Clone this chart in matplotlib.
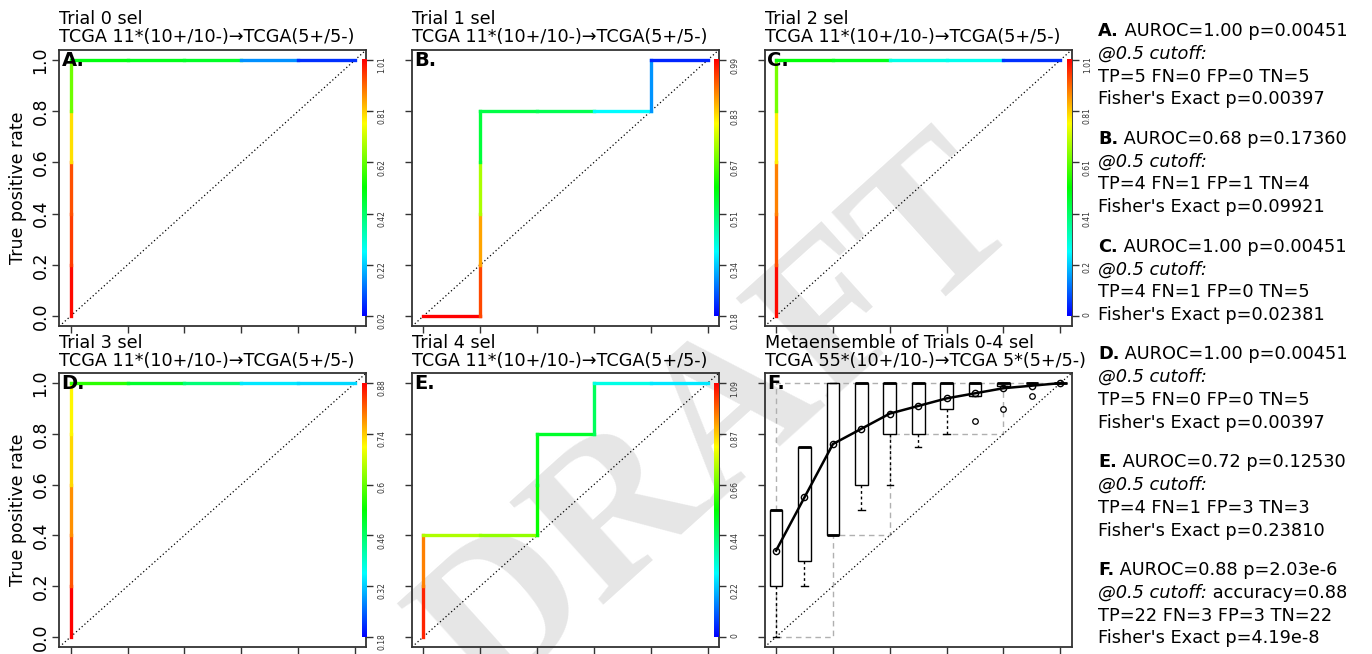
import numpy as np
import matplotlib
matplotlib.use("Agg")
import matplotlib.pyplot as plt
from matplotlib.collections import LineCollection
from matplotlib.colors import ListedColormap, Normalize, hsv_to_rgb

W, H = 1372, 654

# ROC curves of trials 0-4: curve points and the cutoff of each segment
a_fpr = [0, 0, 0, 0, 0, 0, 0.2, 0.4, 0.6, 0.8, 1.0]
a_tpr = [0, 0.2, 0.4, 0.6, 0.8, 1.0, 1.0, 1.0, 1.0, 1.0, 1.0]
a_cut = [1.00, 0.95, 0.93, 0.79, 0.62, 0.50, 0.49, 0.48, 0.16, 0.07]
a_range = (0.02, 1.01)
a_ticks = ["0.02", "0.22", "0.42", "0.62", "0.81", "1.01"]

b_fpr = [0, 0.2, 0.2, 0.2, 0.2, 0.2, 0.4, 0.6, 0.8, 0.8, 1.0]
b_tpr = [0, 0, 0.2, 0.4, 0.6, 0.8, 0.8, 0.8, 0.8, 1.0, 1.0]
b_cut = [0.99, 0.93, 0.86, 0.72, 0.54, 0.53, 0.52, 0.38, 0.30, 0.21]
b_range = (0.18, 0.99)
b_ticks = ["0.18", "0.34", "0.51", "0.67", "0.83", "0.99"]

c_fpr = [0, 0, 0, 0, 0, 0, 0.2, 0.4, 0.6, 0.8, 1.0]
c_tpr = [0, 0.2, 0.4, 0.6, 0.8, 1.0, 1.0, 1.0, 1.0, 1.0, 1.0]
c_cut = [1.00, 0.93, 0.88, 0.77, 0.62, 0.50, 0.48, 0.28, 0.27, 0.05]
c_range = (0.0, 1.01)
c_ticks = ["0", "0.2", "0.41", "0.61", "0.81", "1.01"]

d_fpr = [0, 0, 0, 0, 0, 0, 0.2, 0.4, 0.6, 0.8, 1.0]
d_tpr = [0, 0.2, 0.4, 0.6, 0.8, 1.0, 1.0, 1.0, 1.0, 1.0, 1.0]
d_cut = [0.88, 0.82, 0.78, 0.73, 0.71, 0.56, 0.50, 0.45, 0.34, 0.33]
d_range = (0.18, 0.88)
d_ticks = ["0.18", "0.32", "0.46", "0.6", "0.74", "0.88"]

e_fpr = [0, 0, 0, 0.2, 0.4, 0.4, 0.4, 0.6, 0.6, 0.8, 1.0]
e_tpr = [0, 0.2, 0.4, 0.4, 0.4, 0.6, 0.8, 0.8, 1.0, 1.0, 1.0]
e_cut = [1.05, 0.95, 0.73, 0.70, 0.55, 0.52, 0.50, 0.45, 0.30, 0.25]
e_range = (0.0, 1.09)
e_ticks = ["0", "0.22", "0.44", "0.66", "0.87", "1.09"]

# metaensemble (panel F): TPR boxplots at fixed FPR
f_fpr = [0, 0.1, 0.2, 0.3, 0.4, 0.5, 0.6, 0.7, 0.8, 0.9, 1.0]
f_q1 = [0.2, 0.3, 0.4, 0.6, 0.8, 0.8, 0.9, 0.95, 0.99, 1.0, 1.0]
f_med = [0.5, 0.75, 0.4, 1.0, 1.0, 1.0, 1.0, 1.0, 1.0, 1.0, 1.0]
f_q3 = [0.5, 0.75, 1.0, 1.0, 1.0, 1.0, 1.0, 1.0, 1.0, 1.0, 1.0]
f_wlo = [0.0, 0.2, 0.4, 0.5, 0.6, 0.75, 0.8, 0.95, 0.99, 1.0, 1.0]
f_whi = [0.5, 0.75, 1.0, 1.0, 1.0, 1.0, 1.0, 1.0, 1.0, 1.0, 1.0]
f_out = [[], [], [], [], [], [], [], [0.85], [0.9], [0.95], []]
f_mean = [0.34, 0.55, 0.76, 0.82, 0.88, 0.91, 0.94, 0.96, 0.98, 0.99, 1.0]
f_env1_x = [0, 0, 1.0]
f_env1_y = [0, 1.0, 1.0]
f_env2_x = [0, 0.2, 0.2, 0.4, 0.4, 0.8, 0.8]
f_env2_y = [0, 0, 0.4, 0.4, 0.8, 0.8, 1.0]

titles = ["Trial 0 sel", "Trial 1 sel", "Trial 2 sel", "Trial 3 sel", "Trial 4 sel",
          "Metaensemble of Trials 0-4 sel"]
subtitles = ["TCGA 11*(10+/10-)\u2192TCGA(5+/5-)"] * 5 + ["TCGA 55*(10+/10-)\u2192TCGA 5*(5+/5-)"]
letters = ["A.", "B.", "C.", "D.", "E.", "F."]

stat_head = ["AUROC=1.00 p=0.00451", "AUROC=0.68 p=0.17360", "AUROC=1.00 p=0.00451",
             "AUROC=1.00 p=0.00451", "AUROC=0.72 p=0.12530", "AUROC=0.88 p=2.03e-6"]
stat_extra = ["", "", "", "", "", " accuracy=0.88"]
stat_conf = ["TP=5 FN=0 FP=0 TN=5", "TP=4 FN=1 FP=1 TN=4", "TP=4 FN=1 FP=0 TN=5",
             "TP=5 FN=0 FP=0 TN=5", "TP=4 FN=1 FP=3 TN=3", "TP=22 FN=3 FP=3 TN=22"]
stat_fisher = ["Fisher's Exact p=0.00397", "Fisher's Exact p=0.09921", "Fisher's Exact p=0.02381",
               "Fisher's Exact p=0.00397", "Fisher's Exact p=0.23810", "Fisher's Exact p=4.19e-8"]

# R-style rainbow: blue (low cutoff) to red (high cutoff)
hues = np.linspace(4 / 6, 0, 256)
rainbow = ListedColormap(hsv_to_rgb(np.column_stack([hues, np.ones(256), np.ones(256)])))

fig = plt.figure(figsize=(W / 100, H / 100), dpi=100)
fig.patch.set_facecolor("white")

# DRAFT watermark behind everything
fig.text(722 / W, 1 - 425 / H, "DRAFT", rotation=42, ha="center", va="center",
         fontsize=152, family="Liberation Serif", fontweight="bold", color="#e6e6e6", zorder=-5)

lefts = [59.3, 412.0, 764.7]
rows = [(49.8, 326.3), (373.0, 647.0)]


def make_axes(col, row):
    left = lefts[col]
    top, bottom = rows[row]
    ax = fig.add_axes([left / W, 1 - bottom / H, 307 / W, (bottom - top) / H])
    ax.set_facecolor("none")
    return ax


def style_axes(ax, ylabels):
    ax.set_xlim(-0.04, 1.04)
    ax.set_ylim(-0.04, 1.04)
    ticks = np.linspace(0, 1, 6)
    ax.set_xticks(ticks)
    ax.set_xticklabels([])
    ax.set_yticks(ticks)
    if ylabels:
        ax.set_yticklabels(["0.0", "0.2", "0.4", "0.6", "0.8", "1.0"], rotation=90,
                           va="center", fontsize=12.5)
    else:
        ax.set_yticklabels([])
    ax.tick_params(direction="out", length=5, width=1, color="#333333", pad=2)
    for s in ax.spines.values():
        s.set_linewidth(1.3)
        s.set_color("#333333")
    ax.plot([-0.04, 1.04], [-0.04, 1.04], ls=(0, (1, 2)), color="black", lw=0.9, zorder=2)


roc_panels = [
    (a_fpr, a_tpr, a_cut, a_range, a_ticks),
    (b_fpr, b_tpr, b_cut, b_range, b_ticks),
    (c_fpr, c_tpr, c_cut, c_range, c_ticks),
    (d_fpr, d_tpr, d_cut, d_range, d_ticks),
    (e_fpr, e_tpr, e_cut, e_range, e_ticks),
]

axes = []
for i in range(6):
    col, row = i % 3, i // 3
    ax = make_axes(col, row)
    axes.append(ax)
    if i < 5:
        fpr, tpr, cut, rng, cticks = roc_panels[i]
        pts = np.column_stack([fpr, tpr])
        segs = np.stack([pts[:-1], pts[1:]], axis=1)
        lc = LineCollection(segs, cmap=rainbow, norm=Normalize(*rng), linewidths=2.4,
                            capstyle="projecting", zorder=3)
        lc.set_array(np.array(cut))
        ax.add_collection(lc)
        ax.imshow(np.linspace(0, 1, 256)[:, None], extent=[1.024, 1.04, 0, 1], origin="lower",
                  cmap=rainbow, aspect="auto", zorder=3)
        sec = ax.secondary_yaxis("right")
        sec.set_yticks(np.linspace(0, 1, 6), labels=cticks)
        sec.tick_params(direction="out", length=5, width=1, color="#333333", labelsize=5.5,
                        labelrotation=90, pad=3, labelcolor="#333333")
        sec.spines["right"].set_visible(False)
    else:
        ax.plot(f_env1_x, f_env1_y, ls=(0, (4, 3)), color="#b0b0b0", lw=1, zorder=1)
        ax.plot(f_env2_x, f_env2_y, ls=(0, (4, 3)), color="#b0b0b0", lw=1, zorder=1)
        stats = []
        for k in range(len(f_fpr)):
            stats.append(dict(med=f_med[k], q1=f_q1[k], q3=f_q3[k], whislo=f_wlo[k],
                              whishi=f_whi[k], fliers=f_out[k]))
        ax.bxp(stats, positions=f_fpr, widths=0.045, patch_artist=True, manage_ticks=False,
               boxprops=dict(facecolor="white", edgecolor="black", lw=1),
               medianprops=dict(color="black", lw=2),
               whiskerprops=dict(ls=(0, (2, 2)), lw=1, color="black"),
               capprops=dict(lw=1, color="black"),
               flierprops=dict(marker="o", mfc="none", mec="black", ms=4, mew=0.9))
        ax.plot(f_fpr, f_mean, "-o", color="black", lw=1.8, mfc="none", ms=4.5, mew=1, zorder=5)
    style_axes(ax, col == 0)
    ax.text(0, 1.012, titles[i] + "\n" + subtitles[i], transform=ax.transAxes, ha="left",
            va="bottom", fontsize=12.7, linespacing=1.0)
    ax.text(-0.032, 1.0, letters[i], fontsize=14, fontweight="bold", ha="left", va="center",
            zorder=6)

for yc in [188, 510]:
    fig.text(18 / W, 1 - yc / H, "True positive rate", rotation=90, ha="center", va="center",
             fontsize=12.5)

renderer = fig.canvas.get_renderer()


def rich_line(x, y, parts):
    for txt, style in parts:
        t = fig.text(x / W, 1 - y / H, txt, fontsize=12.8, ha="left", va="center", **style)
        x += t.get_window_extent(renderer=renderer).width


for i in range(6):
    y0 = 31 + i * 107.8
    rich_line(1098, y0, [(letters[i], dict(fontweight="bold")), (" " + stat_head[i], {})])
    rich_line(1098, y0 + 22.8, [("@0.5 cutoff:", dict(style="italic")), (stat_extra[i], {})])
    rich_line(1098, y0 + 45.6, [(stat_conf[i], {})])
    rich_line(1098, y0 + 68.4, [(stat_fisher[i], {})])

fig.savefig("out.png", dpi=100)
